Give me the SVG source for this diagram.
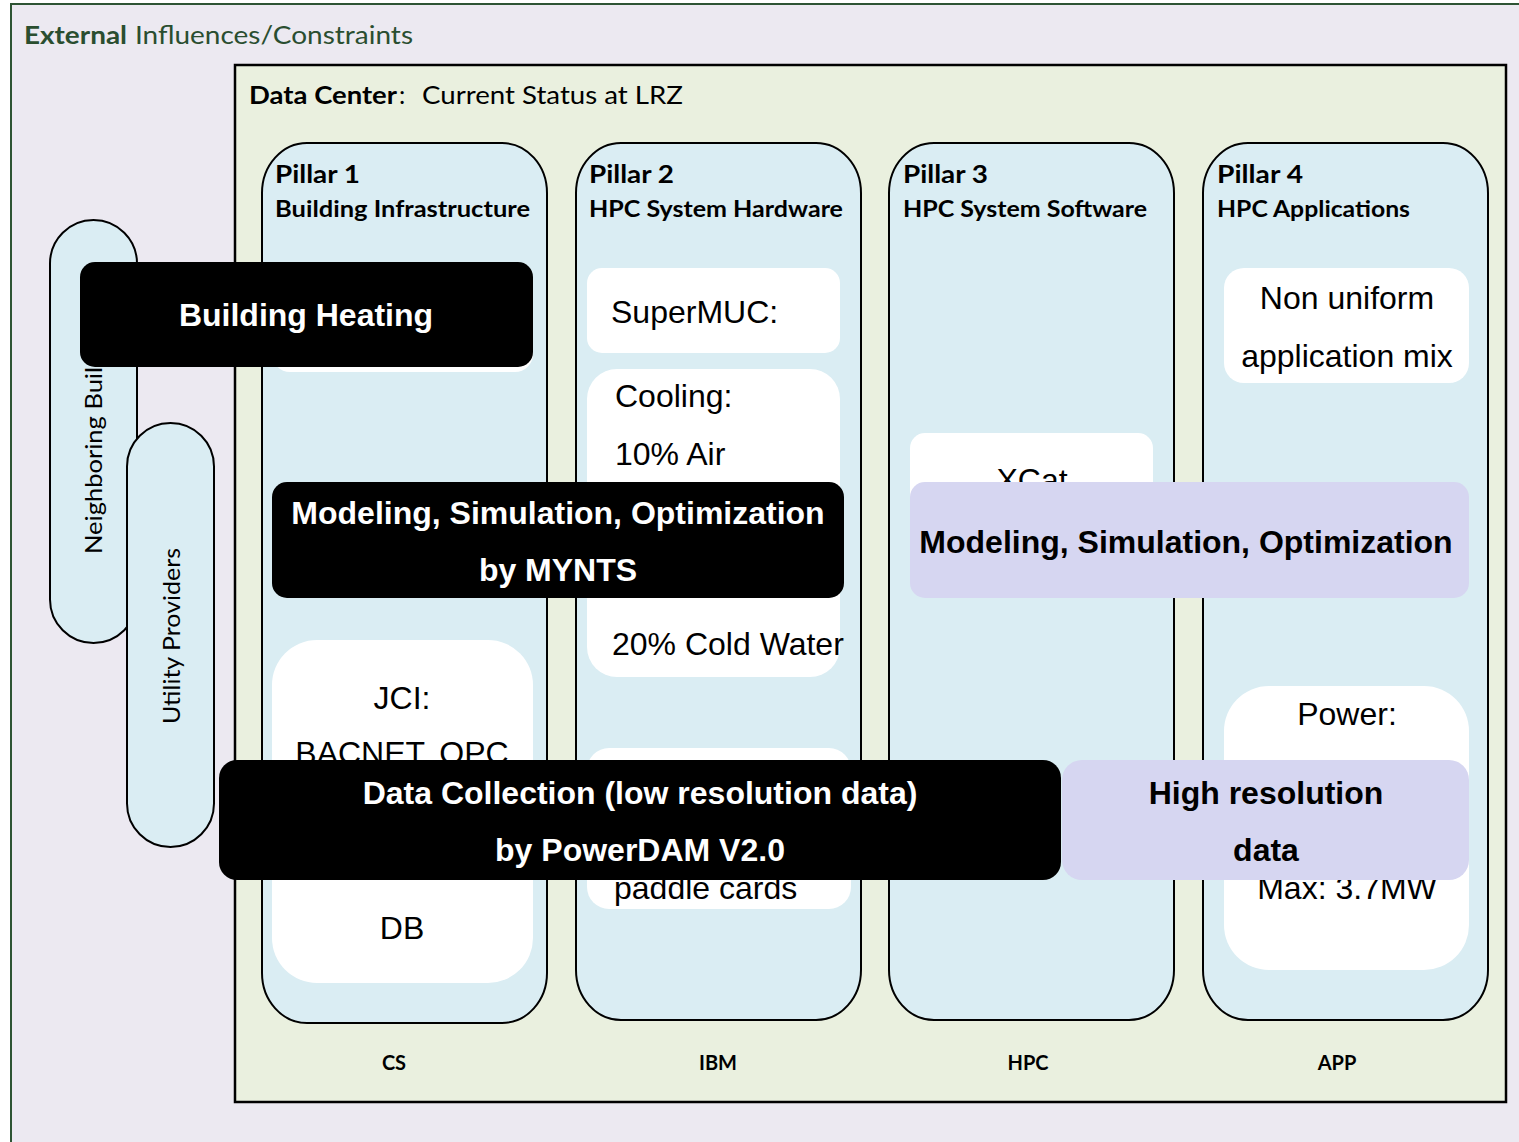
<svg xmlns="http://www.w3.org/2000/svg" width="1519" height="1142" viewBox="0 0 1519 1142">
<style>
.cal{font-family:Lato,"Open Sans","DejaVu Sans",sans-serif}
.b{font-weight:bold}
.ar{font-family:"Liberation Sans",Arial,sans-serif;font-size:32px;fill:#000}
.arb{font-family:"Liberation Sans",Arial,sans-serif;font-size:32px;font-weight:bold}
.pillar{fill:#DAEDF3;stroke:#000;stroke-width:2}
.wbox{fill:#fff}
.blk{fill:#000}
.lav{fill:#D6D6F1}
.pill{fill:#DAEDF3;stroke:#000;stroke-width:2}
.wt{fill:#fff}
.kt{fill:#000}
.mid{text-anchor:middle}
.green{fill:#2A4E30}
</style>

<g id="external">
  <rect x="11" y="4" width="1530" height="1160" fill="#ECE9F1" stroke="#2E5434" stroke-width="2"/>
  <text class="cal b green" x="24" y="44" font-size="25" textLength="103" lengthAdjust="spacingAndGlyphs">External</text>
  <text class="cal green" x="135" y="44" font-size="25" textLength="278" lengthAdjust="spacingAndGlyphs">Influences/Constraints</text>
</g>

<g id="neighboring-buildings">
  <rect class="pill" x="50" y="220" width="87" height="423" rx="43.5" ry="43.5"/>
  <text class="cal kt mid" transform="translate(102,431) rotate(-90)" font-size="23" textLength="246" lengthAdjust="spacingAndGlyphs">Neighboring Buildings</text>
</g>

<g id="utility-providers">
  <rect class="pill" x="127" y="423" width="87" height="424" rx="43.5" ry="43.5"/>
  <text class="cal kt mid" transform="translate(180,636) rotate(-90)" font-size="23" textLength="176" lengthAdjust="spacingAndGlyphs">Utility Providers</text>
</g>

<g id="data-center">
  <rect x="235" y="65" width="1271" height="1037" fill="#EAF0DF" stroke="#000" stroke-width="2.5"/>
  <text class="cal b kt" x="249" y="104" font-size="25" textLength="148" lengthAdjust="spacingAndGlyphs">Data Center</text>
  <text class="cal kt" x="399" y="104" font-size="25">:</text>
  <text class="cal kt" x="422" y="104" font-size="25" textLength="261" lengthAdjust="spacingAndGlyphs">Current Status at LRZ</text>
</g>

<g id="pillar1">
  <rect class="pillar" x="262" y="143" width="285" height="880" rx="45" ry="50"/>
  <text class="cal b kt" x="275" y="183" font-size="25" textLength="85" lengthAdjust="spacingAndGlyphs">Pillar 1</text>
  <text class="cal b kt" x="275" y="217" font-size="22" textLength="255" lengthAdjust="spacingAndGlyphs">Building Infrastructure</text>
  <rect class="wbox" x="272" y="268" width="261" height="104" rx="18"/>
  <rect class="wbox" x="272" y="640" width="261" height="343" rx="45"/>
  <text class="ar mid" x="402" y="709">JCI:</text>
  <text class="ar mid" x="402" y="764">BACNET, OPC</text>
  <text class="ar mid" x="402" y="939">DB</text>
  <text class="cal b kt mid" x="394" y="1070" font-size="20">CS</text>
</g>

<g id="pillar2">
  <rect class="pillar" x="576" y="143" width="285" height="877" rx="45" ry="50"/>
  <text class="cal b kt" x="589" y="183" font-size="25" textLength="85" lengthAdjust="spacingAndGlyphs">Pillar 2</text>
  <text class="cal b kt" x="589" y="217" font-size="22" textLength="254" lengthAdjust="spacingAndGlyphs">HPC System Hardware</text>
  <rect class="wbox" x="587" y="268" width="253" height="85" rx="15"/>
  <text class="ar" x="611" y="323">SuperMUC:</text>
  <rect class="wbox" x="587" y="369" width="253" height="308" rx="30"/>
  <text class="ar" x="615" y="407">Cooling:</text>
  <text class="ar" x="615" y="465">10% Air</text>
  <text class="ar" x="612" y="655">20% Cold Water</text>
  <rect class="wbox" x="587" y="748" width="264" height="161" rx="22"/>
  <text class="ar" x="614" y="899">paddle cards</text>
  <text class="cal b kt mid" x="718" y="1070" font-size="20">IBM</text>
</g>

<g id="pillar3">
  <rect class="pillar" x="889" y="143" width="285" height="877" rx="45" ry="50"/>
  <text class="cal b kt" x="903" y="183" font-size="25" textLength="85" lengthAdjust="spacingAndGlyphs">Pillar 3</text>
  <text class="cal b kt" x="903" y="217" font-size="22" textLength="244" lengthAdjust="spacingAndGlyphs">HPC System Software</text>
  <rect class="wbox" x="910" y="433" width="243" height="120" rx="15"/>
  <text class="ar mid" x="1032" y="491">XCat</text>
  <text class="cal b kt mid" x="1028" y="1070" font-size="20">HPC</text>
</g>

<g id="pillar4">
  <rect class="pillar" x="1203" y="143" width="285" height="877" rx="45" ry="50"/>
  <text class="cal b kt" x="1217" y="183" font-size="25" textLength="86" lengthAdjust="spacingAndGlyphs">Pillar 4</text>
  <text class="cal b kt" x="1217" y="217" font-size="22" textLength="193" lengthAdjust="spacingAndGlyphs">HPC Applications</text>
  <rect class="wbox" x="1224" y="268" width="245" height="115" rx="20"/>
  <text class="ar mid" x="1347" y="309">Non uniform</text>
  <text class="ar mid" x="1347" y="367">application mix</text>
  <rect class="wbox" x="1224" y="686" width="245" height="284" rx="45"/>
  <text class="ar mid" x="1347" y="725">Power:</text>
  <text class="ar mid" x="1347" y="899">Max: 3.7MW</text>
  <text class="cal b kt mid" x="1337" y="1070" font-size="20">APP</text>
</g>

<g id="building-heating">
  <rect class="blk" x="80" y="262" width="453" height="105" rx="15"/>
  <text class="arb wt mid" x="306" y="326">Building Heating</text>
</g>

<g id="modeling-mynts">
  <rect class="blk" x="272" y="482" width="572" height="116" rx="15"/>
  <text class="arb wt mid" x="558" y="524">Modeling, Simulation, Optimization</text>
  <text class="arb wt mid" x="558" y="581">by MYNTS</text>
</g>

<g id="modeling-hpc">
  <rect class="lav" x="910" y="482" width="559" height="116" rx="15"/>
  <text class="arb kt mid" x="1186" y="553">Modeling, Simulation, Optimization</text>
</g>

<g id="data-collection">
  <rect class="blk" x="219" y="760" width="842" height="120" rx="18"/>
  <text class="arb wt mid" x="640" y="804">Data Collection (low resolution data)</text>
  <text class="arb wt mid" x="640" y="861">by PowerDAM V2.0</text>
</g>

<g id="high-resolution">
  <rect class="lav" x="1062" y="760" width="407" height="120" rx="20"/>
  <text class="arb kt mid" x="1266" y="804">High resolution</text>
  <text class="arb kt mid" x="1266" y="861">data</text>
</g>

<g id="connectors"></g>
</svg>
